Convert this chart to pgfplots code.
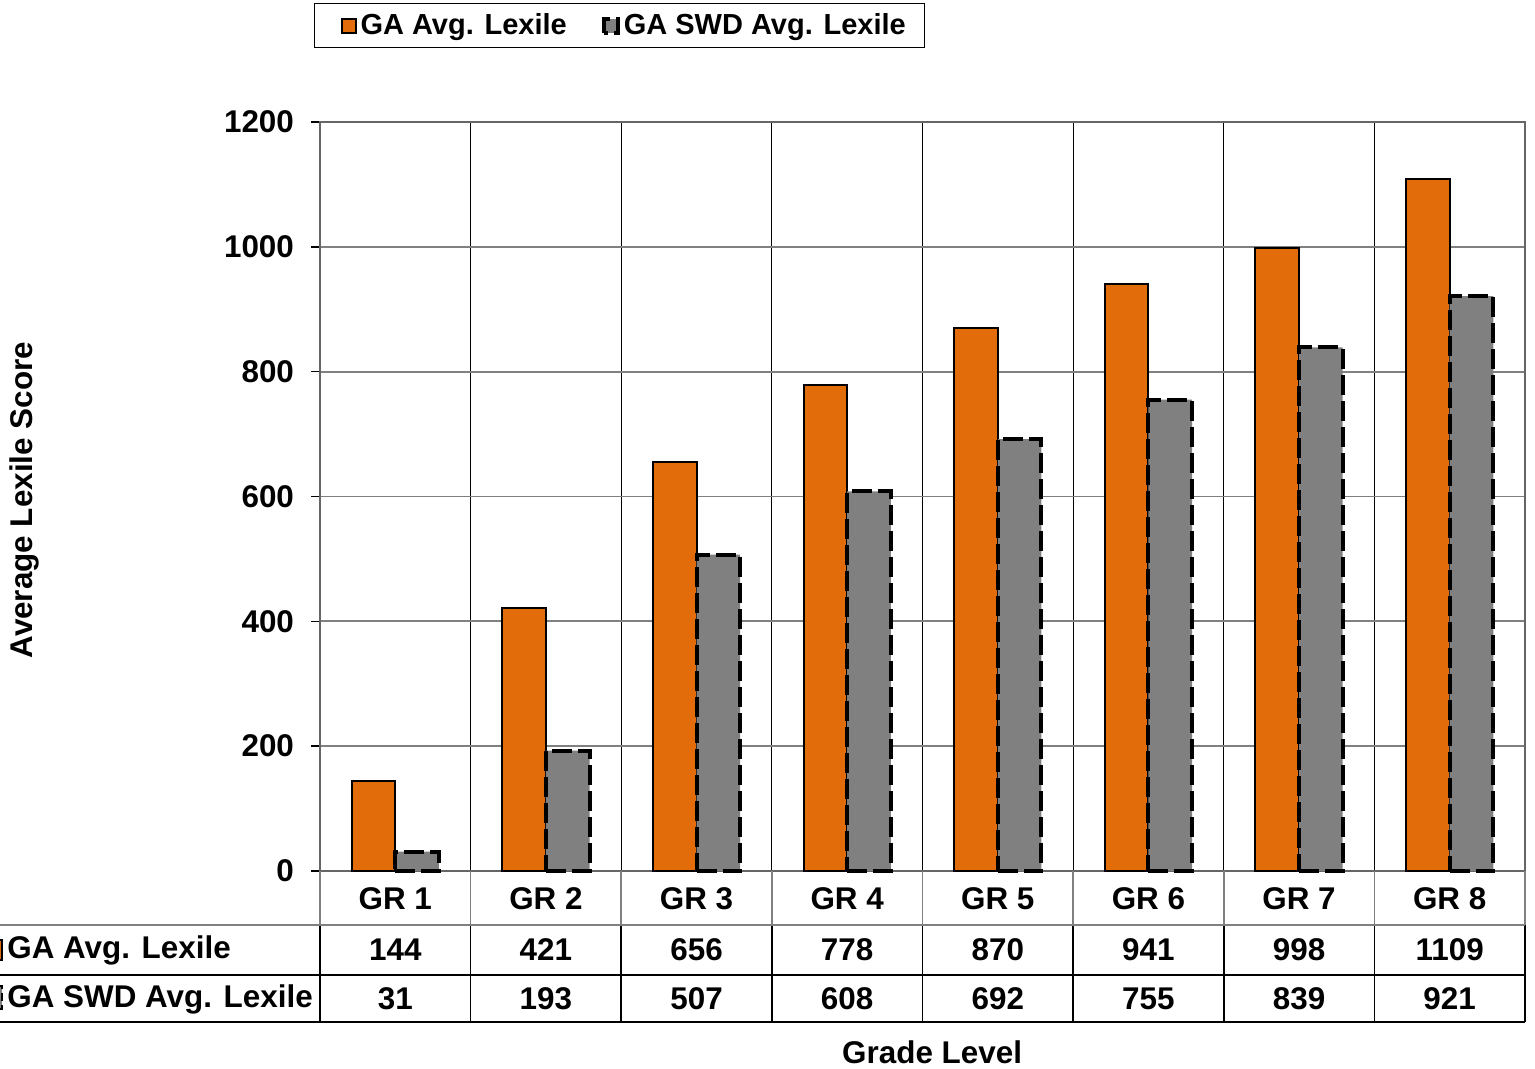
\documentclass[border=0pt]{standalone}
\usepackage{pgfplots}
\pgfplotsset{compat=1.18}
\usepackage{pgfplotstable}
\usepackage{fontspec}
\setmainfont{Liberation Sans}

\definecolor{gaorange}{RGB}{227,108,10}
\definecolor{swdgray}{RGB}{128,128,128}
\definecolor{gridgray}{RGB}{128,128,128}
\newcommand\cf{\fontsize{15.7}{18.8}\selectfont\bfseries}
\newcommand\lf{\fontsize{14.5}{17.4}\selectfont\bfseries}

% grade, GA average, SWD average
\pgfplotstableread{
x  ga    swd
1  144   31
2  421   193
3  656   507
4  778   608
5  870   692
6  941   755
7  998   839
8  1109  921
}\lexile

\begin{document}
\begin{tikzpicture}
\begin{axis}[
    scale only axis,
    width=602.5pt, height=374.5pt,
    at={(160pt,99pt)}, anchor=south west,
    xmin=0.5, xmax=8.5,
    ymin=0, ymax=1200,
    clip=false,
    xtick={1,...,8},
    xticklabels={GR 1,GR 2,GR 3,GR 4,GR 5,GR 6,GR 7,GR 8},
    minor xtick={1.5,2.5,...,7.5},
    xminorgrids,
    minor x grid style={black, line width=0.6pt},
    xtick style={draw=none},
    minor tick length=0pt,
    ytick={0,200,...,1200},
    ymajorgrids,
    major grid style={gridgray, line width=0.9pt},
    tick align=outside,
    ytick pos=left,
    major tick length=4.5pt,
    ytick style={black, line width=0.8pt},
    axis line style={gray!80!black, line width=0.8pt},
    /pgf/number format/assume math mode=true,
    /pgf/number format/1000 sep={},
    ticklabel style={font=\cf},
    xticklabel style={anchor=center, yshift=-9.5pt},
    yticklabel style={anchor=east, xshift=-5pt},
    ylabel={Average Lexile Score},
    ylabel style={font=\cf, at={(axis description cs:-0.245,0.495)}, anchor=center},
    xlabel={Grade Level},
    xlabel style={font=\cf, at={(axis description cs:0.508,-0.2417)}, anchor=center},
    legend columns=2,
    legend style={at={(axis description cs:-0.005,1.159)}, anchor=north west,
      draw=black, line width=0.6pt, font=\lf, inner ysep=3pt, inner xsep=7.5pt,
      /tikz/every even column/.append style={column sep=10pt}},
    legend image code/.code={\path (0pt,0pt); \draw[#1] (5.5pt,-3.5pt) rectangle (12.5pt,3.5pt);},
  ]
  \addplot[ybar, bar width=0.29, bar shift=-0.145,
    fill=gaorange, draw=black, line width=1pt]
    table[x=x, y=ga] {\lexile};
  \addlegendentry{GA Avg. Lexile}
  \addplot[ybar, bar width=0.29, bar shift=0.145,
    fill=swdgray, draw=black, line width=2pt, dash pattern=on 10pt off 3pt]
    table[x=x, y=swd] {\lexile};
  \addlegendentry{GA SWD Avg. Lexile}

  % data table values
  \addplot[draw=none, mark=none, forget plot, nodes near coords,
    point meta=explicit symbolic,
    every node near coord/.append style={anchor=center, font=\cf}]
    table[x=x, y expr=-126.6, meta=ga] {\lexile};
  \addplot[draw=none, mark=none, forget plot, nodes near coords,
    point meta=explicit symbolic,
    every node near coord/.append style={anchor=center, font=\cf}]
    table[x=x, y expr=-205, meta=swd] {\lexile};
\end{axis}

% data table grid
\foreach \k in {0,...,8} {
  \draw[gridgray, line width=0.8pt] ({160pt+75.3125pt*\k}, 99pt) -- ({160pt+75.3125pt*\k}, 72pt);
  \draw[black, line width=0.8pt] ({160pt+75.3125pt*\k}, 72pt) -- ({160pt+75.3125pt*\k}, 23.5pt);
}
\draw[gridgray, line width=0.8pt] (0pt,72pt) -- (762.5pt,72pt);
\draw[black, line width=0.8pt] (0pt,47pt) -- (762.5pt,47pt);
\draw[black, line width=0.8pt] (0pt,23.5pt) -- (762.5pt,23.5pt);

% row headers with legend keys (cut off at the left edge)
\draw[fill=gaorange, draw=black, line width=1pt] (-8pt,54.5pt) rectangle (1pt,64.5pt);
\node[anchor=west, font=\cf, inner sep=0pt] at (3.5pt,59.5pt) {GA Avg. Lexile};
\draw[fill=swdgray, draw=black, line width=1.4pt, dash pattern=on 4pt off 2pt] (-8pt,30pt) rectangle (1pt,41.5pt);
\node[anchor=west, font=\cf, inner sep=0pt] at (3.5pt,35pt) {GA SWD Avg. Lexile};

\pgfresetboundingbox
\useasboundingbox (0pt,0pt) rectangle (767.5pt,534.5pt);
\end{tikzpicture}
\end{document}
